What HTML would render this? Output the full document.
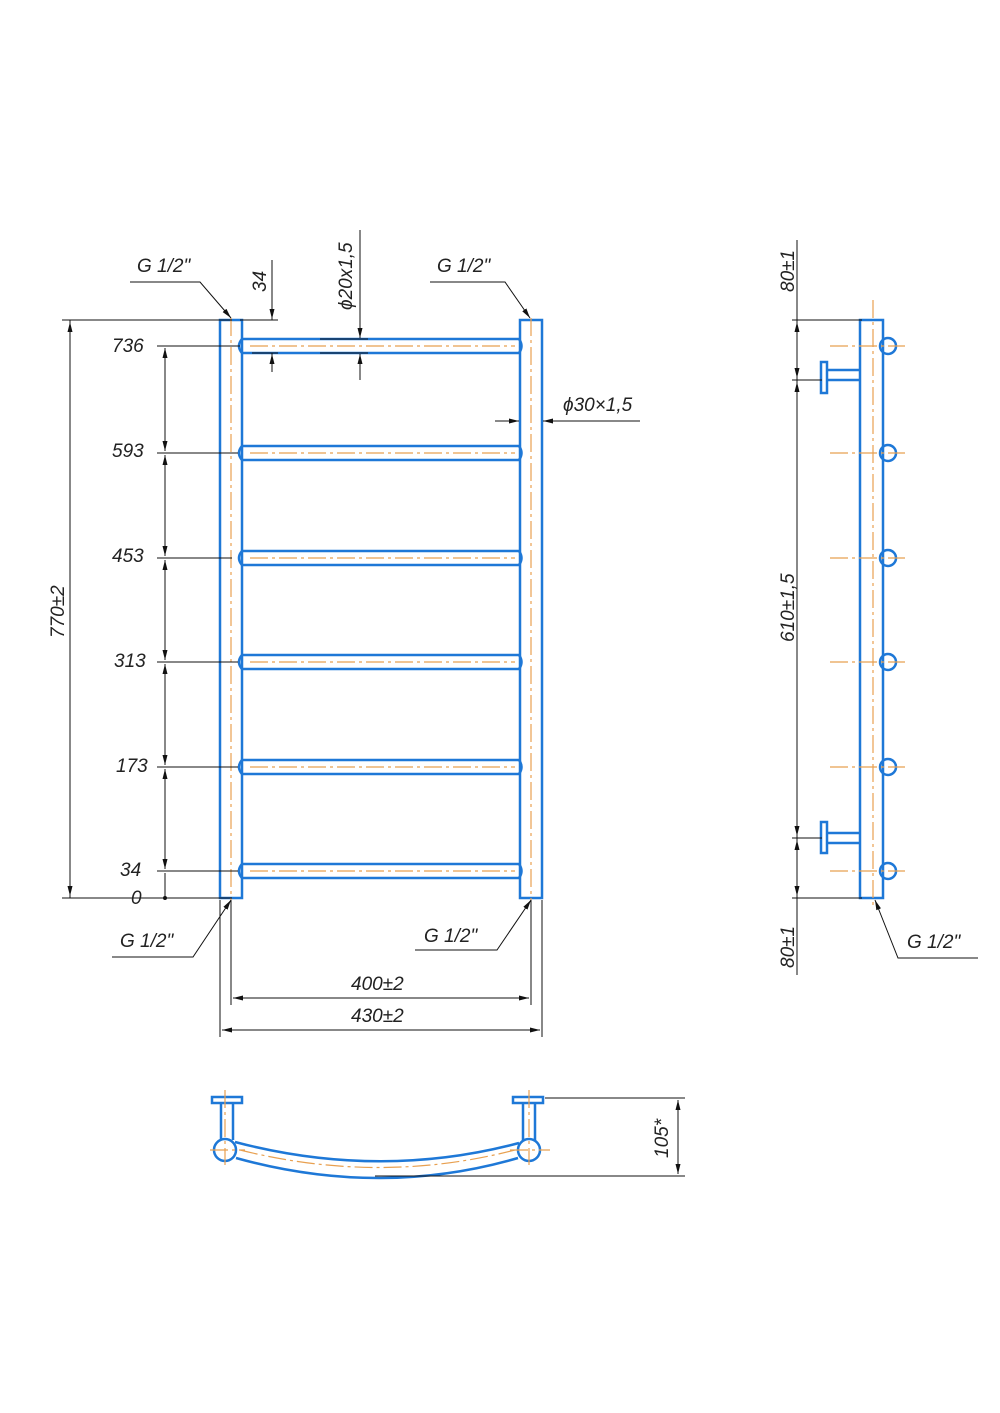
<!DOCTYPE html>
<html><head><meta charset="utf-8"><style>
body{margin:0;background:#fff}
text{font-family:"Liberation Sans",sans-serif;font-style:italic;font-size:19px;fill:#222}
</style></head><body>
<svg width="1000" height="1408" viewBox="0 0 1000 1408" xmlns="http://www.w3.org/2000/svg">
<defs>
<marker id="a" viewBox="0 0 10 6" refX="10" refY="3" markerWidth="10" markerHeight="6" orient="auto-start-reverse" markerUnits="userSpaceOnUse"><path d="M0,0.5L10,3L0,5.5z" fill="#111"/></marker>
</defs>
<g fill="none" stroke="#1e78d7" stroke-width="2.5">
<!-- uprights -->
<rect x="220" y="320" width="22" height="578"/>
<rect x="520" y="320" width="22" height="578"/>
<!-- rungs -->
<g id="r">
<path d="M242,339H519 M242,353H519 M242,339Q236,346 242,353 M519,339Q524,346 519,353"/>
</g>
<use href="#r" y="107"/><use href="#r" y="212"/><use href="#r" y="316"/><use href="#r" y="421"/><use href="#r" y="525"/>
<!-- side view -->
<rect x="860" y="320" width="23" height="578"/>
<g id="c"><circle cx="888" cy="346" r="8"/></g>
<use href="#c" y="107"/><use href="#c" y="212"/><use href="#c" y="316"/><use href="#c" y="421"/><use href="#c" y="525"/>
<rect x="821" y="362" width="6" height="31"/><path d="M827,370H860M827,380H860"/>
<rect x="821" y="822" width="6" height="31"/><path d="M827,833H860M827,843H860"/>
<!-- top view -->
<rect x="212" y="1097" width="30" height="6"/><path d="M221,1103V1140M233,1103V1140"/>
<circle cx="225" cy="1150" r="11"/>
<rect x="513" y="1097" width="30" height="6"/><path d="M523,1103V1140M535,1103V1140"/>
<circle cx="529" cy="1150" r="11"/>
<path d="M235,1142Q380,1180 519,1143 M236,1158Q380,1198 518,1158"/>
</g>
<g stroke="#e8a050" stroke-width="1.2" fill="none" stroke-dasharray="18,4,3,4">
<path d="M231,318V900M531,318V900M873,300V905"/>
<path d="M250,346H515M250,453H515M250,558H515M250,662H515M250,767H515M250,871H515"/>
<path d="M830,346H905M830,453H905M830,558H905M830,662H905M830,767H905M830,871H905"/>
<path d="M210,1150H245M510,1150H550M225,1090V1165M529,1090V1165M240,1150Q380,1185 515,1150"/>
</g>
<g stroke="#111" stroke-width="1" fill="none">
<!-- left dims -->
<path d="M62,320H232M62,898H232M70,320V898" />
<path d="M70,322V896" marker-start="url(#a)" marker-end="url(#a)"/>
<path d="M157,346H240M157,453H238M157,558H232M157,662H238M157,767H238M157,871H238M145,898H232"/>
<path d="M165,348V451" marker-start="url(#a)" marker-end="url(#a)"/>
<path d="M165,455V556" marker-start="url(#a)" marker-end="url(#a)"/>
<path d="M165,560V660" marker-start="url(#a)" marker-end="url(#a)"/>
<path d="M165,664V765" marker-start="url(#a)" marker-end="url(#a)"/>
<path d="M165,769V869" marker-start="url(#a)" marker-end="url(#a)"/>
<path d="M165,873V898"/><circle cx="165" cy="898" r="1.5" fill="#111"/>
<!-- top dims -->
<path d="M240,320H278M272,260V320M272,372V353M252,353H278"/>
<path d="M272,300V319" marker-end="url(#a)"/><path d="M272,372V354" marker-end="url(#a)"/>
<path d="M320,339H368M320,353H368M360,230V338" marker-end="url(#a)"/><path d="M360,380V354" marker-end="url(#a)"/>
<path d="M495,421H519" marker-end="url(#a)"/><path d="M640,421H543" marker-end="url(#a)"/>
<!-- leaders -->
<path d="M130,282H200L231,318" marker-end="url(#a)"/>
<path d="M430,282H505L530,318" marker-end="url(#a)"/>
<path d="M112,957H193L231,900" marker-end="url(#a)"/>
<path d="M415,950H497L531,900" marker-end="url(#a)"/>
<path d="M978,958H898L875,900" marker-end="url(#a)"/>
<!-- bottom dims -->
<path d="M231,900V1005M531,900V1005M220,900V1037M542,900V1037"/>
<path d="M233,998H529" marker-start="url(#a)" marker-end="url(#a)"/>
<path d="M222,1030H540" marker-start="url(#a)" marker-end="url(#a)"/>
<!-- side dims -->
<path d="M797,240V975M792,320H862M792,380H822M792,838H822M792,898H862"/>
<path d="M797,340V322" marker-end="url(#a)"/><path d="M797,360V378" marker-end="url(#a)"/>
<path d="M797,382V836" marker-start="url(#a)" marker-end="url(#a)"/>
<path d="M797,858V840" marker-end="url(#a)"/><path d="M797,878V896" marker-end="url(#a)"/>
<!-- top view dim -->
<path d="M545,1098H685M375,1176H685"/>
<path d="M678,1100V1174" marker-start="url(#a)" marker-end="url(#a)"/>
</g>
<text x="137" y="272">G 1/2"</text>
<text x="437" y="272">G 1/2"</text>
<text x="120" y="947">G 1/2"</text>
<text x="424" y="942">G 1/2"</text>
<text x="907" y="948">G 1/2"</text>
<text x="112" y="352">736</text>
<text x="112" y="457">593</text>
<text x="112" y="562">453</text>
<text x="114" y="667">313</text>
<text x="116" y="772">173</text>
<text x="120" y="876">34</text>
<text x="131" y="904">0</text>
<text x="351" y="990">400±2</text>
<text x="351" y="1022">430±2</text>
<text x="563" y="411">ϕ30×1,5</text>
<text transform="translate(64,638) rotate(-90)">770±2</text>
<text transform="translate(266,292) rotate(-90)">34</text>
<text transform="translate(352,310) rotate(-90)">ϕ20x1,5</text>
<text transform="translate(794,292) rotate(-90)">80±1</text>
<text transform="translate(794,642) rotate(-90)">610±1,5</text>
<text transform="translate(794,968) rotate(-90)">80±1</text>
<text transform="translate(668,1158) rotate(-90)">105*</text>
</svg>
</body></html>
